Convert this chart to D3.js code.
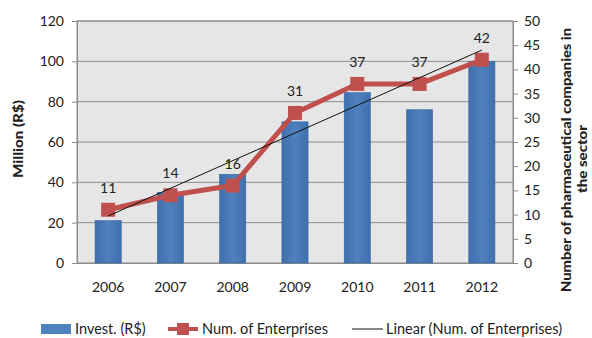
<!DOCTYPE html>
<html><head><meta charset="utf-8">
<script src="https://cdn.jsdelivr.net/npm/d3@7"></script>
<style>
body{margin:0;background:#fff;}
text{font-family:Lato,"Open Sans",sans-serif;fill:#222;}
</style></head>
<body>
<svg id="c" width="592" height="338"></svg>
<script>
const years = ["2006","2007","2008","2009","2010","2011","2012"];
const invest = [21, 35, 44, 70, 84.5, 76, 100];
const enterprises = [11, 14, 16, 31, 37, 37, 42];
const leftTicks = [0,20,40,60,80,100,120];
const rightTicks = [0,5,10,15,20,25,30,35,40,45,50];

const svg = d3.select("#c");
const m = {l:77, r:79, t:21, b:75};
const W = 592, H = 338;
const x = d3.scaleBand().domain(years).range([m.l, W-m.r]).paddingInner(0.58).paddingOuter(0.29);
const yL = d3.scaleLinear().domain([0,120]).range([H-m.b, m.t]);
const yR = d3.scaleLinear().domain([0,50]).range([H-m.b, m.t]);
const cx = d => x(d)+x.bandwidth()/2;

// plot area
svg.append("rect").attr("x",m.l).attr("y",m.t).attr("width",W-m.r-m.l).attr("height",H-m.b-m.t)
  .attr("fill","#e6e6e6").attr("stroke","#8c8c8c");

// gridlines
svg.append("g").selectAll("line").data(leftTicks.slice(1)).join("line")
  .attr("x1",m.l).attr("x2",W-m.r).attr("y1",d=>yL(d)).attr("y2",d=>yL(d))
  .attr("stroke","#8c8c8c").attr("stroke-width",1);

// axes
const axL = svg.append("g").attr("transform",`translate(${m.l},0)`)
  .call(d3.axisLeft(yL).tickValues(leftTicks).tickSize(5).tickPadding(8));
const axR = svg.append("g").attr("transform",`translate(${W-m.r},0)`)
  .call(d3.axisRight(yR).tickValues(rightTicks).tickSize(5).tickPadding(6));
const axB = svg.append("g").attr("transform",`translate(0,${H-m.b})`)
  .call(d3.axisBottom(x).tickSize(0).tickPadding(19));
[axL,axR,axB].forEach(a=>{
  a.selectAll("path").attr("stroke","#8c8c8c");
  a.selectAll("line").attr("stroke","#8c8c8c");
  a.selectAll("text").style("font-size","14px").attr("fill","#222");
});

// bars
const grad = svg.append("defs").append("linearGradient").attr("id","bg").attr("x1","0").attr("x2","1");
grad.append("stop").attr("offset","0").attr("stop-color","#3f6fae");
grad.append("stop").attr("offset","0.5").attr("stop-color","#4f81bd");
grad.append("stop").attr("offset","1").attr("stop-color","#3f6fae");
svg.append("g").selectAll("rect").data(years).join("rect")
  .attr("x",d=>x(d)).attr("width",x.bandwidth())
  .attr("y",(d,i)=>yL(invest[i])).attr("height",(d,i)=>yL(0)-yL(invest[i]))
  .attr("fill","url(#bg)").attr("stroke","#3a67a3").attr("stroke-width",0.6);

// red line
const line = d3.line().x((d,i)=>cx(years[i])).y(d=>yR(d));
svg.append("path").datum(enterprises).attr("d",line).attr("fill","none")
  .attr("stroke","#c0504d").attr("stroke-width",5).attr("stroke-linejoin","round");
svg.append("g").selectAll("rect").data(enterprises).join("rect")
  .attr("x",(d,i)=>cx(years[i])-7).attr("y",d=>yR(d)-7).attr("width",14).attr("height",14)
  .attr("fill","#c0504d");

// linear trend (least-squares of enterprises over index)
const n = enterprises.length, idx = d3.range(n);
const mx = d3.mean(idx), my = d3.mean(enterprises);
const slope = d3.sum(idx,i=>(i-mx)*(enterprises[i]-my))/d3.sum(idx,i=>(i-mx)**2);
const icpt = my - slope*mx;
svg.append("line")
  .attr("x1",cx(years[0])).attr("y1",yR(icpt))
  .attr("x2",cx(years[n-1])).attr("y2",yR(icpt+slope*(n-1)))
  .attr("stroke","#111").attr("stroke-width",1);

// data labels
svg.append("g").selectAll("text").data(enterprises).join("text")
  .attr("x",(d,i)=>cx(years[i])).attr("y",d=>yR(d)-17)
  .attr("text-anchor","middle").style("font-size","14px").text(d=>d);

// axis titles
svg.append("text").attr("transform","translate(23,139) rotate(-90)")
  .attr("text-anchor","middle").style("font-size","13px").style("font-weight","900")
  .attr("textLength",78).attr("lengthAdjust","spacingAndGlyphs").text("Million (R$)");
const rt = svg.append("g").attr("transform","translate(571,160) rotate(-90)")
  .style("font-size","13px").style("font-weight","900");
rt.append("text").attr("x",-132).attr("y",0)
  .attr("textLength",264).attr("lengthAdjust","spacingAndGlyphs").text("Number of pharmaceutical companies in");
rt.append("text").attr("x",-33).attr("y",16)
  .attr("textLength",68).attr("lengthAdjust","spacingAndGlyphs").text("the sector");

// legend
const ly = 329;
const lg = svg.append("g").style("font-size","14.5px");
lg.append("rect").attr("x",41).attr("y",ly-5).attr("width",30).attr("height",10).attr("fill","#4f81bd");
lg.append("text").attr("x",75).attr("y",ly+5).text("Invest. (R$)");
lg.append("line").attr("x1",168).attr("x2",198).attr("y1",ly).attr("y2",ly).attr("stroke","#c0504d").attr("stroke-width",4);
lg.append("rect").attr("x",177).attr("y",ly-6).attr("width",12).attr("height",12).attr("fill","#c0504d");
lg.append("text").attr("x",202).attr("y",ly+5).text("Num. of Enterprises");
lg.append("line").attr("x1",352).attr("x2",383).attr("y1",ly).attr("y2",ly).attr("stroke","#111").attr("stroke-width",1);
lg.append("text").attr("x",386).attr("y",ly+5).text("Linear (Num. of Enterprises)");
</script>
</body></html>
